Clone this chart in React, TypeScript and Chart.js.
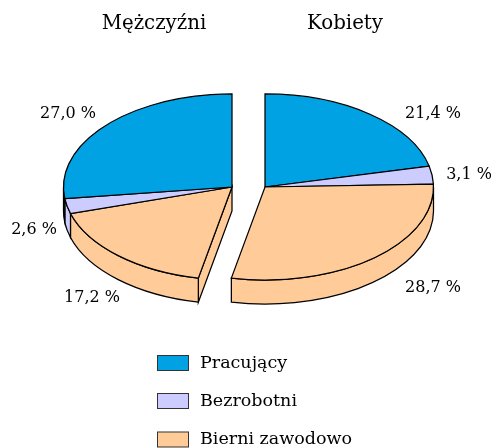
import React, { useEffect, useRef } from "react";
import { Chart, registerables } from "chart.js";

Chart.register(...registerables);

const categories = ["Pracujący", "Bezrobotni", "Bierni zawodowo"];
const groups = ["Mężczyźni", "Kobiety"];
const kobiety = [21.4, 3.1, 28.7];
const mezczyzni = [27.0, 2.6, 17.2];
const colors = ["#00a2e3", "#ccccff", "#ffcc99"];

// clockwise from 12 o'clock: women first, then men in reverse category order
const sliceValues = [...kobiety, ...[...mezczyzni].reverse()];
const sliceColors = [...colors, ...[...colors].reverse()];
const sliceLabels = [...categories, ...[...categories].reverse()];

const FONT = '"DejaVu Serif"';
const FLATTEN = 0.552;
const DEPTH = 24;
const SPLIT = 16.5;
const labelCentres = [
  [433, 113.5],
  [469, 174.5],
  [433, 287.5],
  [92, 297.5],
  [34, 229.5],
  [68, 113.5],
];
const titleCentres = [
  [154, 24],
  [345, 24],
];
const legendRows = [363, 401, 439.5];

const fmt = (v: number) => v.toFixed(1).replace(".", ",") + " %";

const pie3d = {
  id: "pie3d",
  beforeDatasetDraw(chart: any) {
    const ctx = chart.ctx;
    const arcs = chart.getDatasetMeta(0).data;
    const right = arcs.slice(0, 3);
    const left = arcs.slice(3);
    ctx.save();
    ctx.lineWidth = 1.25;
    ctx.strokeStyle = "#000";
    const drawGroup = (els: any[], shift: number, cutFace: boolean) => {
      const first = els[0];
      const cx = first.x + shift;
      const cy = first.y;
      const rx = first.outerRadius;
      const ry = rx * FLATTEN;
      if (cutFace) {
        const a = first.startAngle;
        const ex = cx + rx * Math.cos(a);
        const ey = cy + ry * Math.sin(a);
        ctx.beginPath();
        ctx.moveTo(cx, cy);
        ctx.lineTo(ex, ey);
        ctx.lineTo(ex, ey + DEPTH);
        ctx.lineTo(cx, cy + DEPTH);
        ctx.closePath();
        ctx.fillStyle = first.options.backgroundColor;
        ctx.fill();
        ctx.stroke();
      }
      for (const el of els) {
        const a0 = Math.max(el.startAngle, 0);
        const a1 = Math.min(el.endAngle, Math.PI);
        if (a1 <= a0) continue;
        ctx.beginPath();
        ctx.ellipse(cx, cy, rx, ry, 0, a0, a1);
        ctx.ellipse(cx, cy + DEPTH, rx, ry, 0, a1, a0, true);
        ctx.closePath();
        ctx.fillStyle = el.options.backgroundColor;
        ctx.fill();
        ctx.stroke();
      }
      for (const el of els) {
        ctx.beginPath();
        ctx.moveTo(cx, cy);
        ctx.ellipse(cx, cy, rx, ry, 0, el.startAngle, el.endAngle);
        ctx.closePath();
        ctx.fillStyle = el.options.backgroundColor;
        ctx.fill();
        ctx.stroke();
      }
    };
    drawGroup(left, -SPLIT, true);
    drawGroup(right, SPLIT, false);
    ctx.restore();
    return false;
  },
  afterDraw(chart: any) {
    const ctx = chart.ctx;
    ctx.save();
    ctx.fillStyle = "#000";
    ctx.textAlign = "center";
    ctx.textBaseline = "middle";
    ctx.font = `16px ${FONT}`;
    sliceValues.forEach((v, i) => {
      ctx.fillText(fmt(v), labelCentres[i][0], labelCentres[i][1]);
    });
    ctx.font = `19.8px ${FONT}`;
    groups.forEach((g, i) => ctx.fillText(g, titleCentres[i][0], titleCentres[i][1]));
    ctx.textAlign = "left";
    ctx.font = `17.5px ${FONT}`;
    categories.forEach((c, i) => {
      const y = legendRows[i];
      ctx.fillStyle = colors[i];
      ctx.strokeStyle = "#333";
      ctx.lineWidth = 1;
      ctx.fillRect(158, y - 7.5, 30, 15);
      ctx.strokeRect(157.5, y - 7.5, 31, 15);
      ctx.fillStyle = "#000";
      ctx.fillText(c, 200, y);
    });
    ctx.restore();
  },
};

export default function App() {
  const ref = useRef<HTMLCanvasElement>(null);
  useEffect(() => {
    const chart = new Chart(ref.current!, {
      type: "pie",
      data: {
        labels: sliceLabels,
        datasets: [{ data: sliceValues, backgroundColor: sliceColors, borderWidth: 0 }],
      },
      options: {
        animation: false,
        responsive: false,
        rotation: 0,
        layout: { padding: { left: 80, right: 74, top: 18, bottom: 92 } },
        plugins: { legend: { display: false }, tooltip: { enabled: false } },
      },
      plugins: [pie3d],
    } as any);
    return () => chart.destroy();
  }, []);
  return (
    <div style={{ position: "absolute", left: 0, top: 0, width: 491, height: 448, background: "#fff" }}>
      <canvas ref={ref} width={491} height={448} style={{ display: "block" }} />
    </div>
  );
}
